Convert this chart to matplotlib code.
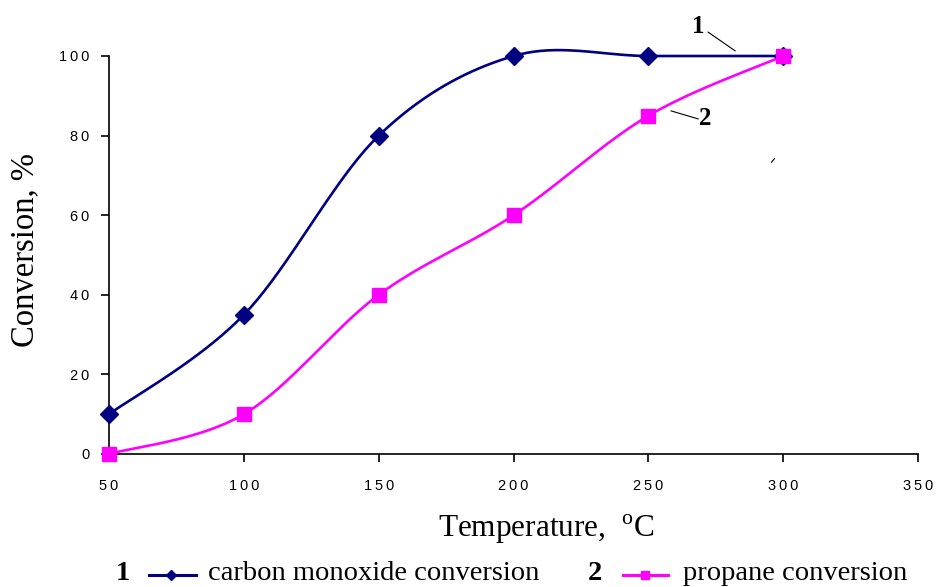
import numpy as np
import matplotlib
matplotlib.use("Agg")
import matplotlib.pyplot as plt
from matplotlib.lines import Line2D

temperature = [50, 100, 150, 200, 250, 300]
co_conversion = [10, 35, 80, 100, 100, 100]
propane_conversion = [0, 10, 40, 60, 85, 100]
x_ticks = [50, 100, 150, 200, 250, 300, 350]
y_ticks = [0, 20, 40, 60, 80, 100]

NAVY = "#000080"
MAGENTA = "#FF00FF"

plt.rcParams["mathtext.fontset"] = "custom"
plt.rcParams["mathtext.rm"] = "Liberation Serif"


def smooth(xs, ys, n=40):
    # Excel-style smoothed line: cubic Bezier with Catmull-Rom control points
    P = np.column_stack([xs, ys]).astype(float)
    out = []
    for i in range(len(P) - 1):
        p0 = P[i - 1] if i > 0 else P[i]
        p1 = P[i]
        p2 = P[i + 1]
        p3 = P[i + 2] if i + 2 < len(P) else P[i + 1]
        c1 = p1 + (p2 - p0) / 6.0
        c2 = p2 - (p3 - p1) / 6.0
        t = np.linspace(0, 1, n)[:, None]
        seg = ((1 - t) ** 3) * p1 + 3 * ((1 - t) ** 2) * t * c1 + 3 * (1 - t) * t ** 2 * c2 + t ** 3 * p2
        out.append(seg if i == 0 else seg[1:])
    s = np.vstack(out)
    return s[:, 0], s[:, 1]


def spaced(v):
    return "\u2009".join(str(v))


fig = plt.figure(figsize=(9.36, 5.87), dpi=100)
ax = fig.add_axes([0.1165, 0.2266, 0.8645, 0.678])

sx, sy = smooth(temperature, co_conversion)
ax.plot(sx, sy, color=NAVY, lw=1.9, clip_on=False, zorder=3)
ax.plot(temperature, co_conversion, ls="none", marker="D", ms=9, color=NAVY, clip_on=False, zorder=4)

px, py = smooth(temperature, propane_conversion)
ax.plot(px, py, color=MAGENTA, lw=1.9, clip_on=False, zorder=3)
ax.plot(temperature, propane_conversion, ls="none", marker="s", ms=10, color=MAGENTA, clip_on=False, zorder=5)

ax.set_xlim(50, 350)
ax.set_ylim(0, 100)
ax.set_xticks(x_ticks)
ax.set_yticks(y_ticks)
ax.set_xticklabels([spaced(v) for v in x_ticks], family="Liberation Sans", fontsize=10.5)
ax.set_yticklabels([spaced(v) for v in y_ticks], family="Liberation Sans", fontsize=10.5)
ax.tick_params(direction="out", length=6, width=1.2, pad=12)
ax.tick_params(axis="y", pad=8)
for s in ["top", "right"]:
    ax.spines[s].set_visible(False)
for s in ["left", "bottom"]:
    ax.spines[s].set_linewidth(1.2)

ax.set_xlabel("Temperature,  $^{\\mathrm{o}}$C", family="Liberation Serif", fontsize=22.5)
ax.xaxis.label.set_va("baseline")
ax.xaxis.set_label_coords((546 - 109) / 809, (454 - 537) / 398)
ax.set_ylabel("Conversion, %", family="Liberation Serif", fontsize=23.5)
ax.yaxis.label.set_va("center")
ax.yaxis.set_label_coords((25 - 109) / 809, (454 - 250) / 398)

# annotations
ax.text(268.4, 107.5, "1", family="Liberation Serif", fontweight="bold", fontsize=18, ha="center", va="center")
ax.plot([272.1, 282.1], [106, 101.3], color="black", lw=0.8, clip_on=False)
ax.text(271.0, 84.4, "2", family="Liberation Serif", fontweight="bold", fontsize=18, ha="center", va="center")
ax.plot([258.4, 268.4], [86.2, 84.2], color="black", lw=0.8, clip_on=False)
ax.plot([295.6, 296.7], [73.3, 74.2], color="black", lw=0.8, clip_on=False)

# legend row
fb = 1 - 580 / 587
fl = 1 - 575 / 587
fig.text(123 / 936, fb, "1", family="Liberation Serif", fontweight="bold", fontsize=20.5, ha="center", va="baseline")
fig.add_artist(Line2D([149 / 936, 196 / 936], [fl, fl], color=NAVY, lw=2.2))
fig.add_artist(Line2D([171 / 936], [fl], color=NAVY, marker="D", ms=5.5))
fig.text(208 / 936, fb, "carbon monoxide conversion", family="Liberation Serif", fontsize=20.5, ha="left", va="baseline")
fig.text(595 / 936, fb, "2", family="Liberation Serif", fontweight="bold", fontsize=20.5, ha="center", va="baseline")
fig.add_artist(Line2D([623 / 936, 668 / 936], [fl, fl], color=MAGENTA, lw=2.2))
fig.add_artist(Line2D([645 / 936], [fl], color=MAGENTA, marker="s", ms=6))
fig.text(683 / 936, fb, "propane conversion", family="Liberation Serif", fontsize=20.5, ha="left", va="baseline")

fig.savefig("out.png", dpi=100)
